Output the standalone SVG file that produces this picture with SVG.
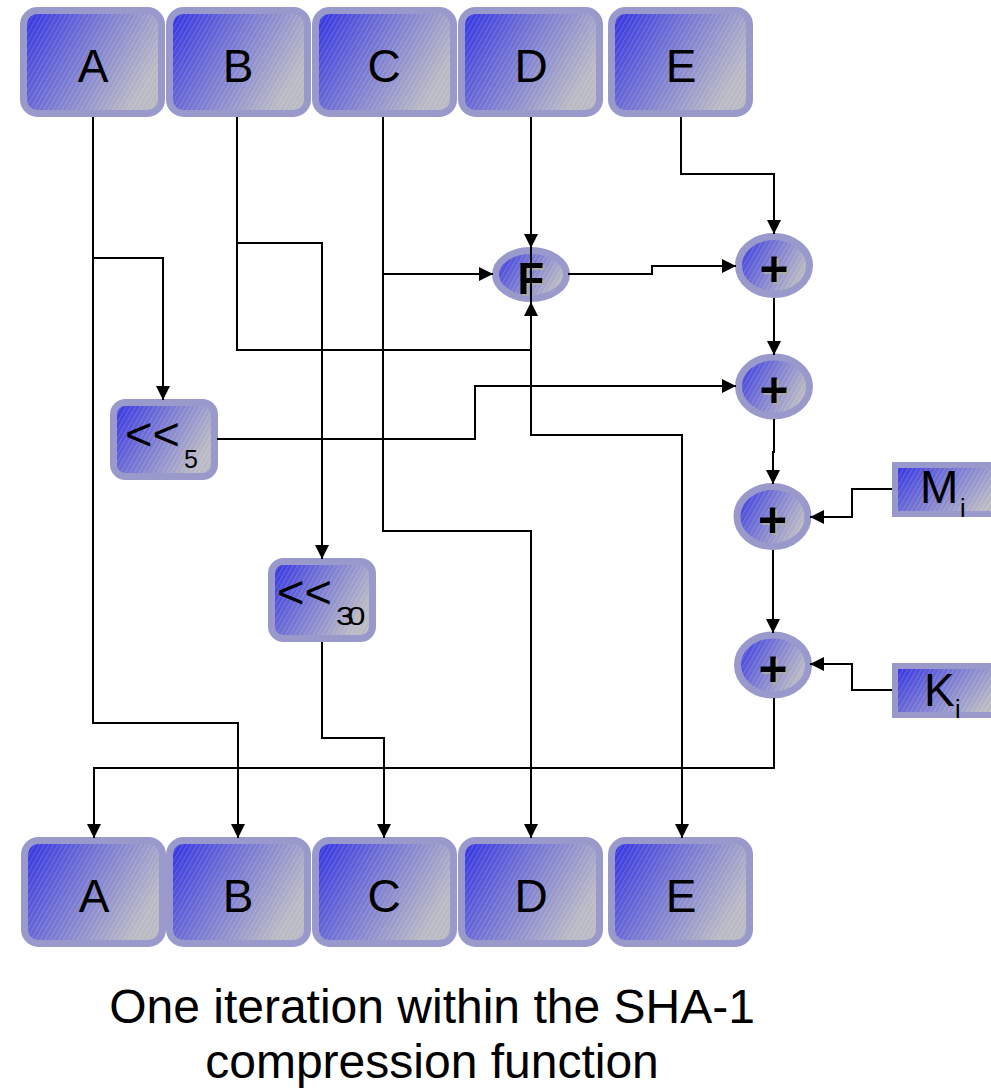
<svg xmlns="http://www.w3.org/2000/svg" width="991" height="1089" viewBox="0 0 991 1089">
  <style>
    .node { fill: url(#blueGrey); stroke: #9999cc; stroke-width: 7; }
    .sq { fill: url(#blueGrey); stroke: #9999cc; stroke-width: 6; }
    .hatch { fill: url(#hatch); stroke: none; }
    .lbl { font-family: "Liberation Sans", Arial, sans-serif; font-size: 46px; fill: #000; text-anchor: middle; }
    .op { font-family: "Liberation Sans", Arial, sans-serif; font-weight: bold; fill: #000; text-anchor: middle; filter: url(#shadow); }
    .shift { font-family: "Liberation Sans", Arial, sans-serif; font-size: 47px; fill: #000; }
    .sub { font-family: "Liberation Sans", Arial, sans-serif; font-size: 25px; fill: #000; }
    .caption { font-family: "Liberation Sans", Arial, sans-serif; font-size: 48px; fill: #000; text-anchor: middle; }
    .wire { fill: none; stroke: #000; stroke-width: 2; }
    .arrow { marker-end: url(#head); }
  </style>
  <defs>
    <linearGradient id="blueGrey" x1="0" y1="0" x2="1" y2="0.45">
      <stop offset="0" stop-color="#2e2ee3"/>
      <stop offset="0.45" stop-color="#7070d4"/>
      <stop offset="1" stop-color="#b9b9c4"/>
    </linearGradient>
    <pattern id="hatch" width="4" height="4" patternUnits="userSpaceOnUse" patternTransform="rotate(30)">
      <rect width="1.2" height="4" fill="#ffffff" opacity="0.16"/>
    </pattern>
    <filter id="shadow" x="-20%" y="-20%" width="150%" height="150%">
      <feDropShadow dx="2" dy="2" stdDeviation="0" flood-color="#aaaaaa" flood-opacity="1"/>
    </filter>
    <marker id="head" viewBox="0 0 14 14" refX="14" refY="7" markerWidth="14" markerHeight="14" markerUnits="userSpaceOnUse" orient="auto">
      <path d="M0,0 L14,7 L0,14 z" fill="#000"/>
    </marker>
  </defs>

  <!-- input registers -->
  <g id="inA"><rect class="node" x="23.5" y="10.5" width="138" height="103" rx="14"/><rect class="hatch" x="27" y="14" width="131" height="96" rx="11"/><text class="lbl" x="93" y="82">A</text></g>
  <g id="inB"><rect class="node" x="169.5" y="10.5" width="138" height="103" rx="14"/><rect class="hatch" x="173" y="14" width="131" height="96" rx="11"/><text class="lbl" x="238" y="82">B</text></g>
  <g id="inC"><rect class="node" x="315.5" y="10.5" width="138" height="103" rx="14"/><rect class="hatch" x="319" y="14" width="131" height="96" rx="11"/><text class="lbl" x="384" y="82">C</text></g>
  <g id="inD"><rect class="node" x="461.5" y="10.5" width="138" height="103" rx="14"/><rect class="hatch" x="465" y="14" width="131" height="96" rx="11"/><text class="lbl" x="531" y="82">D</text></g>
  <g id="inE"><rect class="node" x="611.5" y="10.5" width="138" height="103" rx="14"/><rect class="hatch" x="615" y="14" width="131" height="96" rx="11"/><text class="lbl" x="681" y="82">E</text></g>

  <!-- output registers -->
  <g id="outA"><rect class="node" x="24.5" y="840.5" width="138" height="103" rx="14"/><rect class="hatch" x="28" y="844" width="131" height="96" rx="11"/><text class="lbl" x="94" y="912">A</text></g>
  <g id="outB"><rect class="node" x="169.5" y="840.5" width="138" height="103" rx="14"/><rect class="hatch" x="173" y="844" width="131" height="96" rx="11"/><text class="lbl" x="238" y="912">B</text></g>
  <g id="outC"><rect class="node" x="315.5" y="840.5" width="138" height="103" rx="14"/><rect class="hatch" x="319" y="844" width="131" height="96" rx="11"/><text class="lbl" x="384" y="912">C</text></g>
  <g id="outD"><rect class="node" x="461.5" y="840.5" width="138" height="103" rx="14"/><rect class="hatch" x="465" y="844" width="131" height="96" rx="11"/><text class="lbl" x="531" y="912">D</text></g>
  <g id="outE"><rect class="node" x="611.5" y="840.5" width="138" height="103" rx="14"/><rect class="hatch" x="615" y="844" width="131" height="96" rx="11"/><text class="lbl" x="681" y="912">E</text></g>

  <!-- rotations -->
  <g id="rot5"><rect class="node" x="113.5" y="402.5" width="101" height="74" rx="12"/><rect class="hatch" x="117" y="406" width="94" height="67" rx="9"/><text class="shift" x="125" y="450">&lt;&lt;</text><text class="sub" x="184" y="468">5</text></g>
  <g id="rot30"><rect class="node" x="271.5" y="561.5" width="101" height="77" rx="12"/><rect class="hatch" x="275" y="565" width="94" height="70" rx="9"/><text class="shift" x="277" y="608">&lt;&lt;</text><text class="sub" x="336" y="625" textLength="23" lengthAdjust="spacingAndGlyphs" letter-spacing="-5">30</text></g>

  <!-- round function -->
  <g id="funcF"><ellipse class="node" cx="531" cy="274.5" rx="35.5" ry="24"/><ellipse class="hatch" cx="531" cy="274.5" rx="32" ry="20.5"/><text class="op" x="531" y="294" font-size="44">F</text></g>

  <!-- modular adders -->
  <g id="add1"><ellipse class="node" cx="774" cy="265.5" rx="35.5" ry="29"/><ellipse class="hatch" cx="774" cy="265.5" rx="32" ry="25.5"/><text class="op" x="774" y="286" font-size="50">+</text></g>
  <g id="add2"><ellipse class="node" cx="774" cy="386.5" rx="35.5" ry="29.5"/><ellipse class="hatch" cx="774" cy="386.5" rx="32" ry="26"/><text class="op" x="774" y="407" font-size="50">+</text></g>
  <g id="add3"><ellipse class="node" cx="772.5" cy="516.5" rx="35.5" ry="30"/><ellipse class="hatch" cx="772.5" cy="516.5" rx="32" ry="26.5"/><text class="op" x="772.5" y="537" font-size="50">+</text></g>
  <g id="add4"><ellipse class="node" cx="773" cy="665" rx="35.5" ry="30"/><ellipse class="hatch" cx="773" cy="665" rx="32" ry="26.5"/><text class="op" x="773" y="686" font-size="50">+</text></g>

  <!-- message word and round constant -->
  <g id="msgM"><rect class="sq" x="895" y="465" width="110" height="49"/><rect class="hatch" x="898" y="468" width="104" height="43"/><text class="lbl" x="920" y="503" style="text-anchor:start" font-size="44">M</text><text class="sub" x="960" y="517" font-size="26">i</text></g>
  <g id="constK"><rect class="sq" x="895" y="666" width="110" height="49"/><rect class="hatch" x="898" y="669" width="104" height="43"/><text class="lbl" x="924" y="706" style="text-anchor:start" font-size="46">K</text><text class="sub" x="955" y="718" font-size="26">i</text></g>

  <!-- connectors -->
  <g id="wires">
    <path class="wire arrow" d="M93,117 V258 H163 V400"/>
    <path class="wire arrow" d="M93,117 V723 H238 V838"/>
    <path class="wire arrow" d="M237,117 V243 H322 V559"/>
    <path class="wire arrow" d="M237,117 V350 H531 V302"/>
    <path class="wire arrow" d="M383,117 V274 H493"/>
    <path class="wire arrow" d="M383,117 V531 H531 V838"/>
    <path class="wire arrow" d="M531,117 V248"/>
    <path class="wire arrow" d="M531,117 V435 H682 V838"/>
    <path class="wire arrow" d="M681,117 V174 H774 V234"/>
    <path class="wire arrow" d="M568,274 H652 V266 H736"/>
    <path class="wire arrow" d="M217,439 H475 V386 H736"/>
    <path class="wire arrow" d="M774,298 V355"/>
    <path class="wire arrow" d="M774,419 V452 H773 V484"/>
    <path class="wire arrow" d="M892,489 H852 V517 H810"/>
    <path class="wire arrow" d="M773,550 V633"/>
    <path class="wire arrow" d="M892,690 H852 V664 H810"/>
    <path class="wire arrow" d="M774,698 V768 H94 V838"/>
    <path class="wire arrow" d="M322,642 V738 H384 V838"/>
  </g>

  <!-- caption -->
  <text class="caption" x="432" y="1023">One iteration within the SHA-1</text>
  <text class="caption" x="432" y="1078">compression function</text>
</svg>
